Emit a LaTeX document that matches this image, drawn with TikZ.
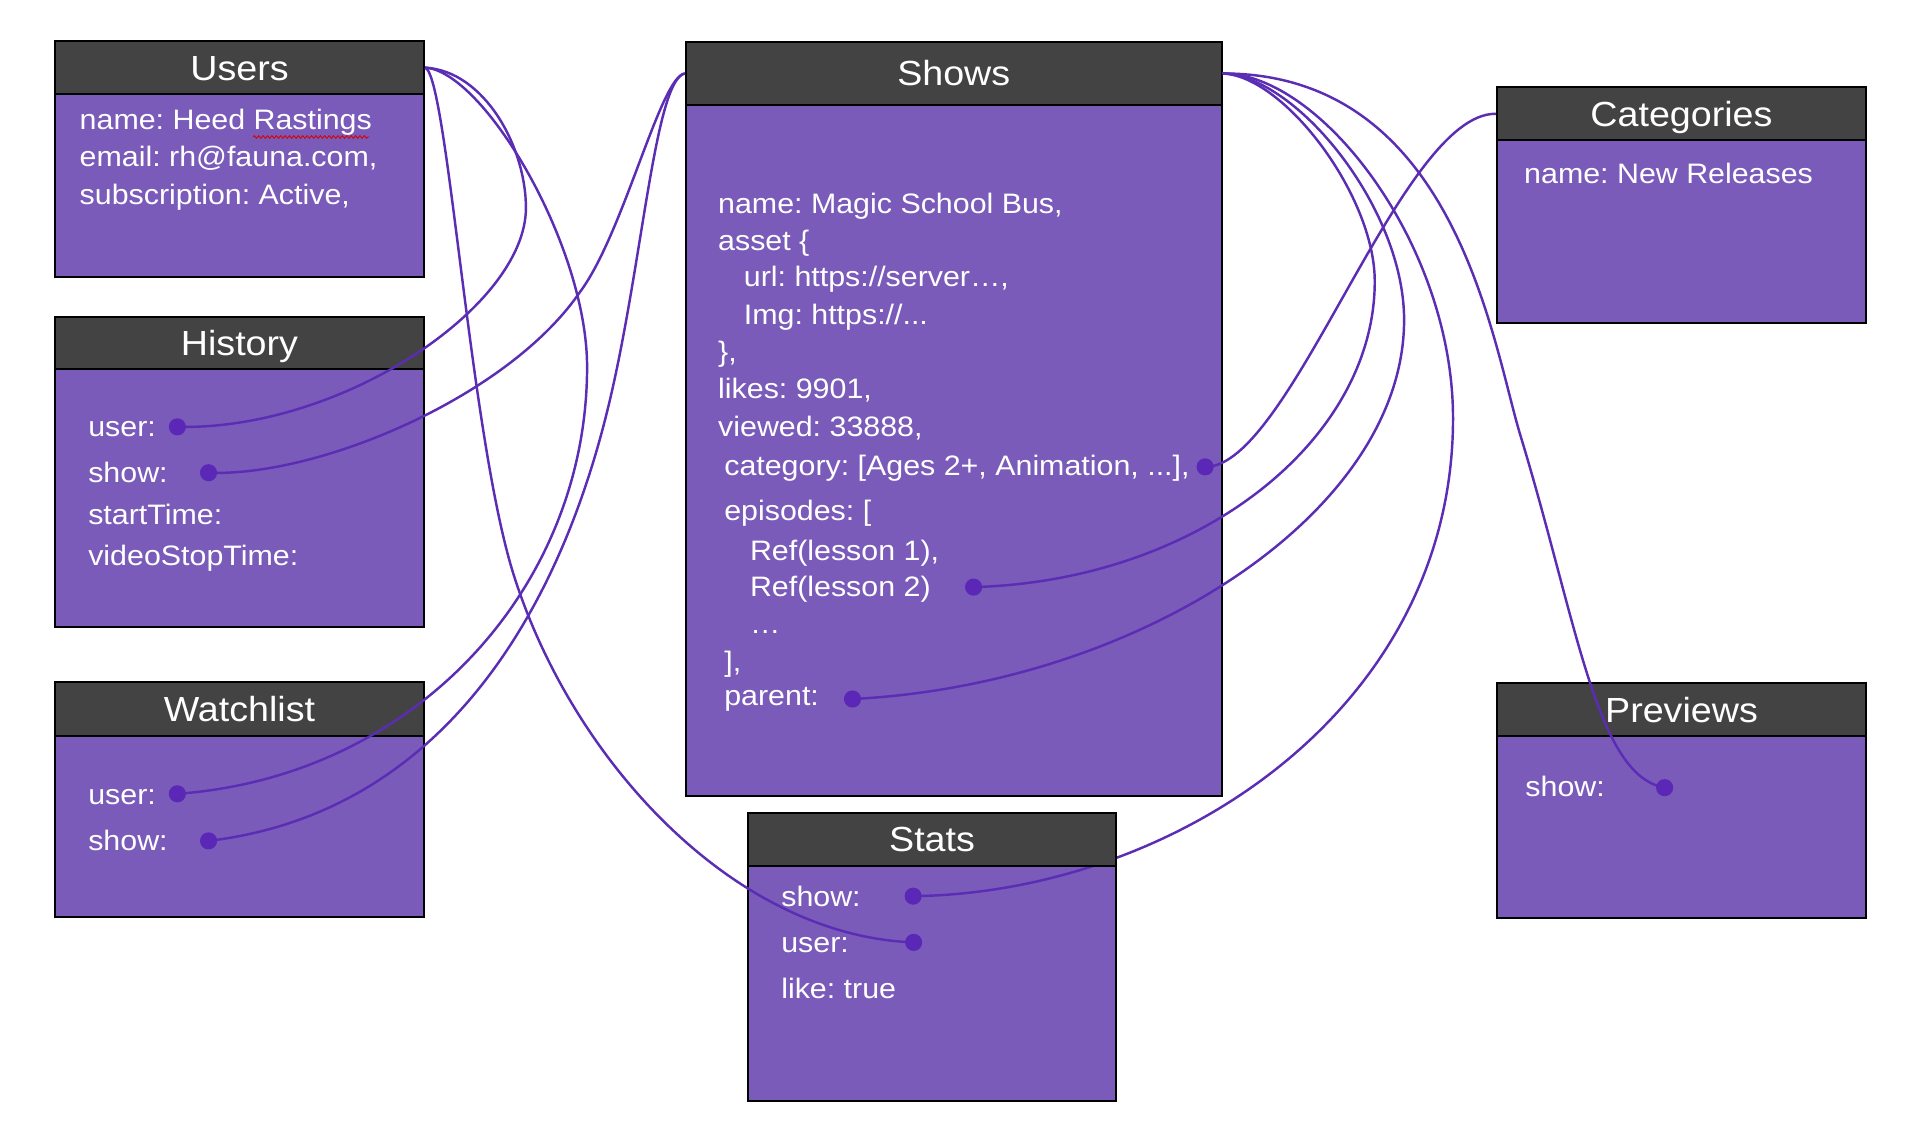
\documentclass[tikz,border=0pt]{standalone}
\usepackage{fontspec}
\setmainfont{Liberation Sans}[FakeStretch=1.08]
\usetikzlibrary{decorations.pathmorphing}
\definecolor{hdrgray}{HTML}{434343}
\definecolor{bodyviolet}{HTML}{7A5BBA}
\definecolor{linkviolet}{HTML}{5A2DB4}
\definecolor{dotviolet}{HTML}{5B27B6}
\frenchspacing
\begin{document}
\begin{tikzpicture}[x=1pt,y=-1pt,
  hdr/.style={draw=black, line width=1.6pt, fill=hdrgray, text=white,
    font=\frenchspacing\fontsize{28.5}{30}\selectfont, text height=20.4pt, text depth=0pt,
    inner sep=0pt, anchor=north west},
  bodyrect/.style={draw=black, line width=1.6pt, fill=bodyviolet, inner sep=0pt, anchor=north west},
  fld/.style={text=white, font=\frenchspacing\fontsize{23}{27}\selectfont, inner sep=0pt, anchor=base west},
  link/.style={draw=linkviolet, line width=2pt},
  dotmark/.style={fill=dotviolet}]
\useasboundingbox (0,0) rectangle (1560,927.2);
\fill[white] (0,0) rectangle (1560,927.2);

% ---- boxes ----
\node[bodyrect, minimum width=302pt, minimum height=150pt] (users-b) at (44,76) {};
\node[hdr, minimum width=302pt, minimum height=43pt] (users-h) at (44,33) {Users};
\node[bodyrect, minimum width=302pt, minimum height=211pt] (hist-b) at (44,301) {};
\node[hdr, minimum width=302pt, minimum height=43pt] (hist-h) at (44,258) {History};
\node[bodyrect, minimum width=302pt, minimum height=148pt] (watch-b) at (44,601) {};
\node[hdr, minimum width=302pt, minimum height=44pt] (watch-h) at (44,557) {Watchlist};
\node[bodyrect, minimum width=438pt, minimum height=565pt] (shows-b) at (560,85) {};
\node[hdr, minimum width=438pt, minimum height=51.5pt] (shows-h) at (560,33.5) {Shows};
\node[bodyrect, minimum width=302pt, minimum height=149pt] (cat-b) at (1223,114) {};
\node[hdr, minimum width=302pt, minimum height=43.5pt] (cat-h) at (1223,70.5) {Categories};
\node[bodyrect, minimum width=302pt, minimum height=148.5pt] (prev-b) at (1223,601) {};
\node[hdr, minimum width=302pt, minimum height=43pt] (prev-h) at (1223,558) {Previews};
\node[bodyrect, minimum width=301.5pt, minimum height=192pt] (stats-b) at (610.5,707) {};

% ---- field texts ----
\node[fld] (u1) at (65,105.7) {name: Heed Rastings};
\node[fld] (u2) at (65,136.3) {email: rh@fauna.com,};
\node[fld] (u3) at (65,166.8) {subscription: Active,};
\draw[red!85!black, line width=0.7pt, decorate,
  decoration={zigzag, segment length=3.6pt, amplitude=1.1pt}] (207,112) -- (302,112);

\node[fld] (h1) at (72,357) {user:};
\node[fld] (h2) at (72,394.7) {show:};
\node[fld] (h3) at (72,428.5) {startTime:};
\node[fld] (h4) at (72,462) {videoStopTime:};

\node[fld] (w1) at (72,657.4) {user:};
\node[fld] (w2) at (72,695) {show:};

\node[fld] (s1) at (587,174.4) {name: Magic School Bus,};
\node[fld] (s2) at (587,204.4) {asset \{};
\node[fld] (s3) at (608,234.4) {url: https://server…,};
\node[fld] (s4) at (608,265.7) {Img: https://...};
\node[fld] (s5) at (587,295.7) {\},};
\node[fld] (s6) at (587,325.7) {likes: 9901,};
\node[fld] (s7) at (587,356.5) {viewed: 33888,};
\node[fld] (s8) at (592,388.4) {category: [Ages 2+, Animation, ...],};
\node[fld] (s9) at (592,425.7) {episodes: [};
\node[fld] (s10) at (613,457.9) {Ref(lesson 1),};
\node[fld] (s11) at (613,487.9) {Ref(lesson 2)};
\node[fld] (s12) at (613,517.6) {…};
\node[fld] (s13) at (592,549.2) {],};
\node[fld] (s14) at (592,576.5) {parent:};

\node[fld] (t1) at (638.6,741.4) {show:};
\node[fld] (t2) at (638.6,779) {user:};
\node[fld] (t3) at (638.6,816.3) {like: true};

\node[fld] (c1) at (1246,150.4) {name: New Releases};
\node[fld] (p1) at (1247,651.5) {show:};

% ---- link end points ----
\coordinate (hu) at (145,349);
\coordinate (hs) at (170.5,386.5);
\coordinate (wu) at (145,649);
\coordinate (ws) at (170.5,687.5);
\coordinate (su) at (747,770.5);
\coordinate (ss) at (746.6,732.7);
\coordinate (pv) at (1361,644);
\coordinate (catd) at (985.3,381.7);
\coordinate (epd) at (796,480);
\coordinate (pard) at (697,571.5);

% Shows -> Stats.show passes behind the Stats header
\draw[link] (shows-h.east) .. controls (1080,60) and (1188,200) .. (1188,342)
  .. controls (1188,580) and (960,730) .. (ss);
\node[hdr, minimum width=301.5pt, minimum height=43pt] (stats-h) at (610.5,664) {Stats};

% ---- links ----
\draw[link] (users-h.east) .. controls (396,58) and (430,120) .. (430,170)
  .. controls (430,250) and (280,352) .. (hu);
\draw[link] (users-h.east) .. controls (395,58) and (480,200) .. (480,300)
  .. controls (480,480) and (340,635) .. (wu);
\draw[link] (users-h.east) .. controls (366,62) and (384,356) .. (420,470)
  .. controls (468,622) and (600,765) .. (su);
\draw[link] (shows-h.west) .. controls (540,62) and (510,191) .. (474,239)
  .. controls (415,325) and (260,390) .. (hs);
\draw[link] (shows-h.west) .. controls (535,65) and (525,222) .. (496,338)
  .. controls (455,503) and (360,665) .. (ws);
\draw[link] (cat-h.west) .. controls (1145,92) and (1055,383) .. (catd);
\draw[link] (shows-h.east) .. controls (1050,62) and (1124,160) .. (1124,230)
  .. controls (1124,360) and (980,475) .. (epd);
\draw[link] (shows-h.east) .. controls (1060,62) and (1148,170) .. (1148,261.5)
  .. controls (1148,420) and (930,560) .. (pard);
\draw[link] (shows-h.east) .. controls (1190,60) and (1220,280) .. (1243,355.7)
  .. controls (1290,510) and (1305,634) .. (pv);

% ---- dots ----
\foreach \d in {hu,hs,wu,ws,su,ss,pv,catd,epd,pard}
  \fill[dotmark] (\d) circle (7pt);
\end{tikzpicture}
\end{document}
